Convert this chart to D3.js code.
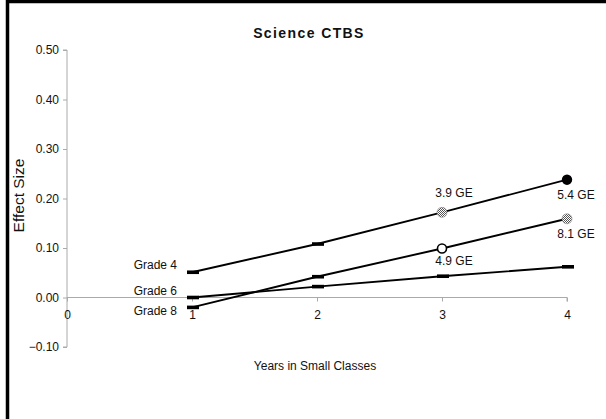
<!DOCTYPE html>
<html>
<head>
<meta charset="utf-8">
<script src="https://cdn.jsdelivr.net/npm/d3@7"></script>
<style>
  html, body { margin: 0; padding: 0; background: #fff; }
  svg { display: block; font-family: "Liberation Sans", Arial, sans-serif; }
</style>
</head>
<body>
<div id="chart"></div>
<script>
// Data
const years = [1, 2, 3, 4];
const xTicks = [0, 1, 2, 3, 4];
const yTicks = [-0.10, 0.00, 0.10, 0.20, 0.30, 0.40, 0.50];
const seriesNames = ['Grade 4', 'Grade 6', 'Grade 8'];
const grade4 = [0.051, 0.108, 0.172, 0.238];
const grade6 = [0.000, 0.022, 0.043, 0.062];
const grade8 = [-0.020, 0.042, 0.099, 0.159];
// marker kind for each point
const markers4 = ['dash', 'dash', 'hatch', 'dot'];
const markers6 = ['dash', 'dash', 'dash', 'dash'];
const markers8 = ['dash', 'dash', 'open', 'hatch'];
// grade-equivalent annotations
const geLabels = [
  { grade: 'Grade 4', year: 3, text: '3.9 GE' },
  { grade: 'Grade 4', year: 4, text: '5.4 GE' },
  { grade: 'Grade 8', year: 3, text: '4.9 GE' },
  { grade: 'Grade 8', year: 4, text: '8.1 GE' }
];

const series = [
  { name: seriesNames[0], values: grade4, markers: markers4 },
  { name: seriesNames[1], values: grade6, markers: markers6 },
  { name: seriesNames[2], values: grade8, markers: markers8 }
];

const width = 606, height = 419;
const svg = d3.select('#chart').append('svg')
  .attr('width', width).attr('height', height);

// pattern for the grey (dithered) markers
const defs = svg.append('defs');
const pat = defs.append('pattern').attr('id', 'dither')
  .attr('patternUnits', 'userSpaceOnUse').attr('width', 2).attr('height', 2);
pat.append('rect').attr('width', 2).attr('height', 2).attr('fill', '#fff');
pat.append('rect').attr('width', 1).attr('height', 1).attr('fill', '#555');
pat.append('rect').attr('x', 1).attr('y', 1).attr('width', 1).attr('height', 1).attr('fill', '#555');

// frame (only top and left edges visible)
svg.append('rect')
  .attr('x', 7.5).attr('y', 1.5).attr('width', 700).attr('height', 500)
  .attr('fill', 'none').attr('stroke', '#000').attr('stroke-width', 3.5);

const x = d3.scaleLinear().domain([0, 4]).range([67, 567]);
const y = d3.scaleLinear().domain([-0.1, 0.5]).range([347, 50]);
const axisColor = '#aaa';
const font = '"Liberation Sans", Arial, sans-serif';

// y axis
const gy = svg.append('g').attr('transform', `translate(${x(0)},0)`)
  .call(d3.axisLeft(y).tickValues(yTicks).tickFormat(d3.format('.2f')).tickSize(4).tickPadding(4));
gy.select('.domain').attr('stroke', axisColor).attr('d', `M-4,${y(0.5)}H0V${y(-0.1)}H-4`);
gy.selectAll('.tick line').attr('stroke', axisColor);
gy.selectAll('.tick text').attr('fill', '#111').style('font-size', '12px').style('font-family', font);

// x axis at y = 0
const gx = svg.append('g').attr('transform', `translate(0,${y(0)})`)
  .call(d3.axisBottom(x).tickValues(xTicks).tickFormat(d3.format('d')).tickSize(4).tickPadding(9));
gx.select('.domain').attr('stroke', axisColor).attr('d', `M${x(0)},0H${x(4)}V4`);
gx.selectAll('.tick line').attr('stroke', axisColor);
gx.selectAll('.tick text').attr('fill', '#111').style('font-size', '12px').style('font-family', font);

// title
svg.append('text')
  .attr('x', 309).attr('y', 38)
  .attr('text-anchor', 'middle')
  .style('font-size', '14px').style('font-weight', 'bold').style('letter-spacing', '1.4px')
  .attr('fill', '#111')
  .text('Science CTBS');

// axis titles
svg.append('text')
  .attr('transform', `translate(24,${(y(0.5) + y(-0.1)) / 2 - 3}) rotate(-90)`)
  .attr('text-anchor', 'middle')
  .style('font-size', '15.5px').attr('fill', '#111')
  .text('Effect Size');
svg.append('text')
  .attr('x', 315).attr('y', 370)
  .attr('text-anchor', 'middle')
  .style('font-size', '12px').attr('fill', '#111')
  .text('Years in Small Classes');

// lines
const line = d3.line().x((d, i) => x(years[i])).y((d) => y(d));
svg.selectAll('path.series').data(series).enter().append('path')
  .attr('class', 'series')
  .attr('fill', 'none').attr('stroke', '#000').attr('stroke-width', 1.9)
  .attr('d', (s) => line(s.values));

// markers
series.forEach((s) => {
  const g = svg.append('g');
  s.values.forEach((v, i) => {
    const cx = x(years[i]), cy = y(v), kind = s.markers[i];
    if (kind === 'dash') {
      g.append('rect').attr('x', cx - 5).attr('y', cy - 1.8)
        .attr('width', 12).attr('height', 3.6).attr('fill', '#000');
    } else if (kind === 'dot') {
      g.append('circle').attr('cx', cx).attr('cy', cy).attr('r', 5.2).attr('fill', '#000');
    } else if (kind === 'open') {
      g.append('circle').attr('cx', cx).attr('cy', cy).attr('r', 4.5)
        .attr('fill', '#fff').attr('stroke', '#000').attr('stroke-width', 1.6);
    } else if (kind === 'hatch') {
      g.append('circle').attr('cx', cx).attr('cy', cy).attr('r', 5)
        .attr('fill', 'url(#dither)').attr('stroke', '#888').attr('stroke-width', 0.6);
    }
  });
});

// series labels at the start of each line
const labelDy = { 'Grade 4': -3, 'Grade 6': -3, 'Grade 8': 8 };
svg.selectAll('text.series-label').data(series).enter().append('text')
  .attr('class', 'series-label')
  .attr('x', x(1) - 15)
  .attr('y', (s) => y(s.values[0]) + labelDy[s.name])
  .attr('text-anchor', 'end')
  .style('font-size', '12px').attr('fill', '#111')
  .text((s) => s.name);

// GE annotations
const byName = new Map(series.map((s) => [s.name, s]));
const geOffset = {
  'Grade 4|3': [12, -15], 'Grade 4|4': [9, 19],
  'Grade 8|3': [12, 17], 'Grade 8|4': [9, 19]
};
svg.selectAll('text.ge').data(geLabels).enter().append('text')
  .attr('class', 'ge')
  .attr('x', (d) => x(d.year) + geOffset[`${d.grade}|${d.year}`][0])
  .attr('y', (d) => y(byName.get(d.grade).values[years.indexOf(d.year)]) + geOffset[`${d.grade}|${d.year}`][1])
  .attr('text-anchor', 'middle')
  .style('font-size', '12px').attr('fill', '#111')
  .text((d) => d.text);
</script>
</body>
</html>
